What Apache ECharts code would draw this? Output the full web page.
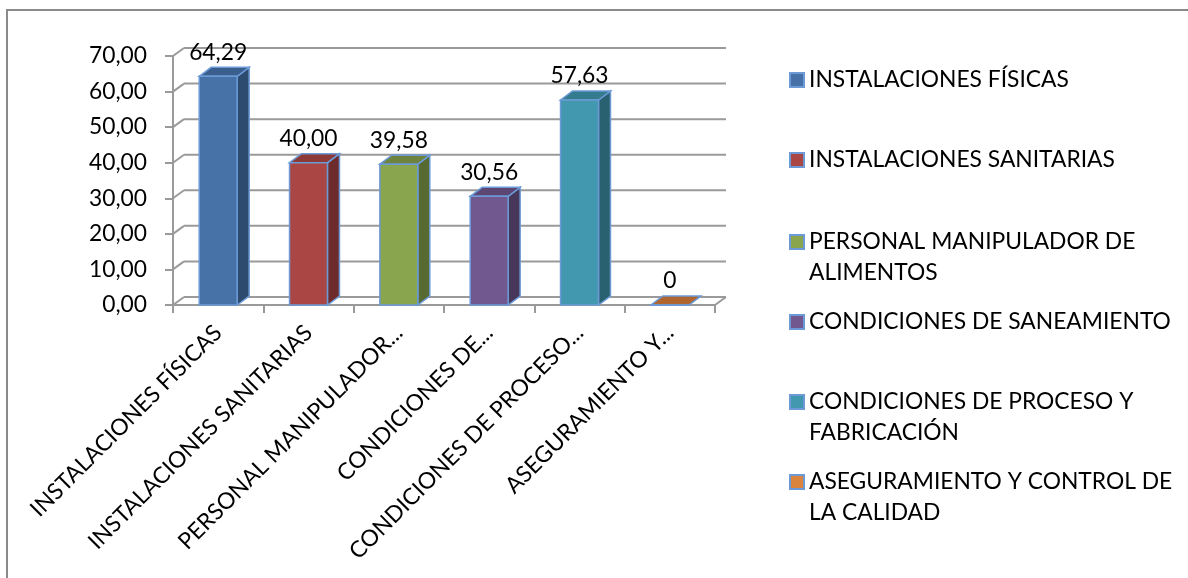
<!DOCTYPE html>
<html>
  <head>
    <meta charset="utf-8" />
    <title>Cumplimiento por capítulo</title>
    <script src="https://cdn.jsdelivr.net/npm/echarts@6/dist/echarts.min.js"></script>
    <style>
      * {
        margin: 0;
        padding: 0;
      }
      html,
      body {
        background: #fff;
      }
      #container {
        width: 1188px;
        height: 578px;
      }
    </style>
  </head>
  <body>
    <div id="container"></div>
    <script>
      // datos
      const categories = [
        "INSTALACIONES FÍSICAS",
        "INSTALACIONES SANITARIAS",
        "PERSONAL MANIPULADOR DE ALIMENTOS",
        "CONDICIONES DE SANEAMIENTO",
        "CONDICIONES DE PROCESO Y FABRICACIÓN",
        "ASEGURAMIENTO Y CONTROL DE LA CALIDAD",
      ];
      const tickLabels = [
        "INSTALACIONES FÍSICAS",
        "INSTALACIONES SANITARIAS",
        "PERSONAL MANIPULADOR...",
        "CONDICIONES DE...",
        "CONDICIONES DE PROCESO...",
        "ASEGURAMIENTO Y...",
      ];
      const legendLabels = [
        "INSTALACIONES FÍSICAS",
        "INSTALACIONES SANITARIAS",
        "PERSONAL MANIPULADOR DE\nALIMENTOS",
        "CONDICIONES DE SANEAMIENTO",
        "CONDICIONES DE PROCESO Y\nFABRICACIÓN",
        "ASEGURAMIENTO Y CONTROL DE\nLA CALIDAD",
      ];
      const values = [64.29, 40.0, 39.58, 30.56, 57.63, 0];
      const yTicks = [0, 10, 20, 30, 40, 50, 60, 70];

      // colores (cara frontal, lateral, superior)
      const frontColors = ["#4672A8", "#AA4643", "#89A54E", "#71588F", "#4198AF", "#DB843D"];
      const sideColors = ["#2D4A6F", "#6D2C2B", "#576A31", "#47385B", "#2A6171", "#8F5628"];
      const topColors = ["#3A5F8E", "#8C3937", "#6E843E", "#5B4674", "#347B8D", "#B0652E"];

      const FONT = "Lato";
      const FS = 22.8;
      const WALL_DX = 11, WALL_DY = -8; // profundidad de la pared
      const BAR_DX = 12, BAR_DY = -9; // profundidad de las barras
      const EDGE = "#6B9AD6";

      const fmt = (v) => (v === 0 ? "0" : v.toFixed(2).replace(".", ","));

      const chart = echarts.init(document.getElementById("container"));

      // pared del fondo + piso
      const renderWall = (params, api) => {
        const v = api.value(1);
        const band = api.size([1, 0])[0];
        const p0 = api.coord([0, v]);
        const p5 = api.coord([categories.length - 1, v]);
        const left = p0[0] - band / 2;
        const right = p5[0] + band / 2;
        const y = p0[1];
        const st = { stroke: "#9a9a9a", lineWidth: 2 };
        const children = [
          {
            type: "line",
            shape: { x1: left + WALL_DX, y1: y + WALL_DY, x2: right + WALL_DX, y2: y + WALL_DY },
            style: st,
          },
          {
            type: "line",
            shape: { x1: left, y1: y, x2: left + WALL_DX, y2: y + WALL_DY },
            style: st,
          },
        ];
        if (v === 0) {
          children.push({
            type: "line",
            shape: { x1: right, y1: y, x2: right + WALL_DX, y2: y + WALL_DY },
            style: st,
          });
        }
        return { type: "group", children };
      };

      const makeBar = (k) => (params, api) => {
        const i = api.value(0);
        const v = api.value(1);
        const top = api.coord([i, v]);
        const base = api.coord([i, 0]);
        const band = api.size([1, 0])[0];
        const w = band * 0.42;
        const x0 = top[0] - w / 2;
        const x1 = top[0] + w / 2;
        const yt = top[1];
        const yb = base[1];
        return {
          type: "group",
          children: [
            {
              type: "polygon",
              shape: {
                points: [
                  [x1, yt],
                  [x1 + BAR_DX, yt + BAR_DY],
                  [x1 + BAR_DX, yb + BAR_DY],
                  [x1, yb],
                ],
              },
              style: { fill: sideColors[k], stroke: EDGE, lineWidth: 1.5 },
            },
            {
              type: "polygon",
              shape: {
                points: [
                  [x0, yt],
                  [x0 + BAR_DX, yt + BAR_DY],
                  [x1 + BAR_DX, yt + BAR_DY],
                  [x1, yt],
                ],
              },
              style: { fill: topColors[k], stroke: EDGE, lineWidth: 1.5 },
            },
            {
              type: "rect",
              shape: { x: x0, y: yt, width: w, height: yb - yt },
              style: { fill: frontColors[k], stroke: EDGE, lineWidth: 1.5 },
            },
            {
              type: "text",
              style: {
                text: fmt(v),
                x: top[0],
                y: yt - 24,
                align: "center",
                verticalAlign: "middle",
                fontFamily: FONT,
                fontSize: FS,
                fill: "#000",
              },
            },
          ],
        };
      };

      const legendCenters = [80, 160, 242, 322, 402, 482];
      const legends = categories.map((name, k) => {
        const multi = legendLabels[k].indexOf("\n") >= 0;
        return {
          data: [name],
          left: 789,
          top: multi ? legendCenters[k] - 46.5 : legendCenters[k] - 15.5,
          padding: 0,
          orient: "vertical",
          icon: "rect",
          itemWidth: 14,
          itemHeight: 14,
          itemStyle: { borderColor: EDGE, borderWidth: 2 },
          selectedMode: false,
          textStyle: { fontFamily: FONT, fontSize: FS, color: "#000", lineHeight: 31 },
          formatter: () => (multi ? "\n" + legendLabels[k] : legendLabels[k]),
        };
      });

      const series = [
        {
          type: "custom",
          name: "wall",
          renderItem: renderWall,
          data: yTicks.map((v) => [0, v]),
          silent: true,
          z: 1,
        },
      ];
      categories.forEach((name, k) => {
        series.push({
          type: "custom",
          name: name,
          renderItem: makeBar(k),
          itemStyle: { color: frontColors[k] },
          data: [[k, values[k]]],
          z: 5,
        });
      });

      chart.setOption({
        animation: false,
        backgroundColor: "#fff",
        graphic: [
          {
            type: "rect",
            shape: { x: 7, y: 10, width: 1300, height: 700 },
            style: { fill: null, stroke: "#8a8a8a", lineWidth: 2 },
            silent: true,
          },
        ],
        legend: legends,
        grid: {
          left: 173,
          right: 473,
          top: 56,
          bottom: 273,
          containLabel: false,
          outerBoundsMode: "none",
        },
        xAxis: {
          type: "category",
          data: tickLabels,
          axisLine: { lineStyle: { color: "#9a9a9a", width: 2 } },
          axisTick: { show: true, length: 8, interval: 0, lineStyle: { color: "#9a9a9a", width: 2 } },
          axisLabel: {
            interval: 0,
            rotate: 45,
            margin: 24,
            fontFamily: FONT,
            fontSize: FS,
            color: "#000",
          },
        },
        yAxis: {
          type: "value",
          min: 0,
          max: 70,
          interval: 10,
          axisLine: { show: true, lineStyle: { color: "#9a9a9a", width: 2 } },
          axisTick: { show: true, length: 8, lineStyle: { color: "#9a9a9a", width: 2 } },
          splitLine: { show: false },
          axisLabel: {
            margin: 26,
            fontFamily: FONT,
            fontSize: FS,
            color: "#000",
            formatter: (v) => v.toFixed(2).replace(".", ","),
          },
        },
        series: series,
      });
    </script>
  </body>
</html>
